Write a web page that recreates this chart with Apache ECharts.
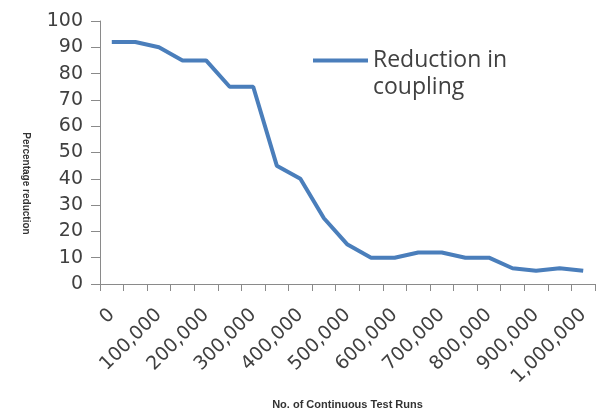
<!DOCTYPE html>
<html>
<head>
<meta charset="utf-8">
<script src="https://cdn.jsdelivr.net/npm/echarts@6/dist/echarts.min.js"></script>
<style>html,body{margin:0;padding:0;background:#fff}#c{width:598px;height:412px}</style>
</head>
<body>
<div id="c"></div>
<script>
const categories = ['0','50,000','100,000','150,000','200,000','250,000','300,000','350,000','400,000','450,000','500,000','550,000','600,000','650,000','700,000','750,000','800,000','850,000','900,000','950,000','1,000,000'];
const reductionValues = [92,92,90,85,85,75,75,45,40,25,15,10,10,12,12,10,10,6,5,6,5];
const seriesName = 'Reduction in coupling';
const yAxisTitle = 'Percentage reduction';
const xAxisTitle = 'No. of Continuous Test Runs';

const chart = echarts.init(document.getElementById('c'), null, {renderer:'canvas'});
chart.setOption({
  animation:false,
  backgroundColor:'#ffffff',
  grid:{left:100, right:3, top:21, bottom:128, containLabel:false, outerBoundsMode:'none'},
  legend:{
    show:true,
    left:313, top:20,
    padding:0,
    itemWidth:55, itemHeight:4, itemGap:0,
    icon:'rect',
    data:[{name:seriesName}],
    formatter:function(){ return '\nReduction in\ncoupling'; },
    textStyle:{fontFamily:'Open Sans', fontSize:23, color:'#404040', lineHeight:27}
  },
  xAxis:{
    type:'category',
    data:categories,
    boundaryGap:true,
    name:xAxisTitle,
    nameLocation:'middle',
    nameGap:115,
    nameTextStyle:{fontFamily:'Liberation Sans', fontWeight:'bold', fontSize:11, color:'#333'},
    axisLine:{lineStyle:{color:'#8a8a8a', width:1}},
    axisTick:{show:true, interval:0, length:7, lineStyle:{color:'#8a8a8a'}},
    axisLabel:{interval:1, rotate:45, margin:28, padding:[25,0,0,0], fontFamily:'DejaVu Sans', fontSize:19, color:'#404040'},
    splitLine:{show:false}
  },
  yAxis:{
    type:'value',
    min:0, max:100, interval:10,
    name:yAxisTitle,
    nameLocation:'middle',
    nameRotate:-90,
    nameGap:69,
    nameTextStyle:{fontFamily:'Liberation Sans', fontWeight:'bold', fontSize:10, color:'#333', padding:[0,0,0,62]},
    axisLine:{show:true, lineStyle:{color:'#8a8a8a', width:1}},
    axisTick:{show:true, length:9, lineStyle:{color:'#8a8a8a'}},
    axisLabel:{margin:17, fontFamily:'DejaVu Sans', fontSize:19, color:'#404040'},
    splitLine:{show:false}
  },
  series:[{
    name:seriesName,
    type:'line',
    data:reductionValues,
    symbol:'none',
    smooth:false,
    lineStyle:{color:'#4a7ebb', width:4},
    itemStyle:{color:'#4a7ebb'}
  }]
});
</script>
</body>
</html>
